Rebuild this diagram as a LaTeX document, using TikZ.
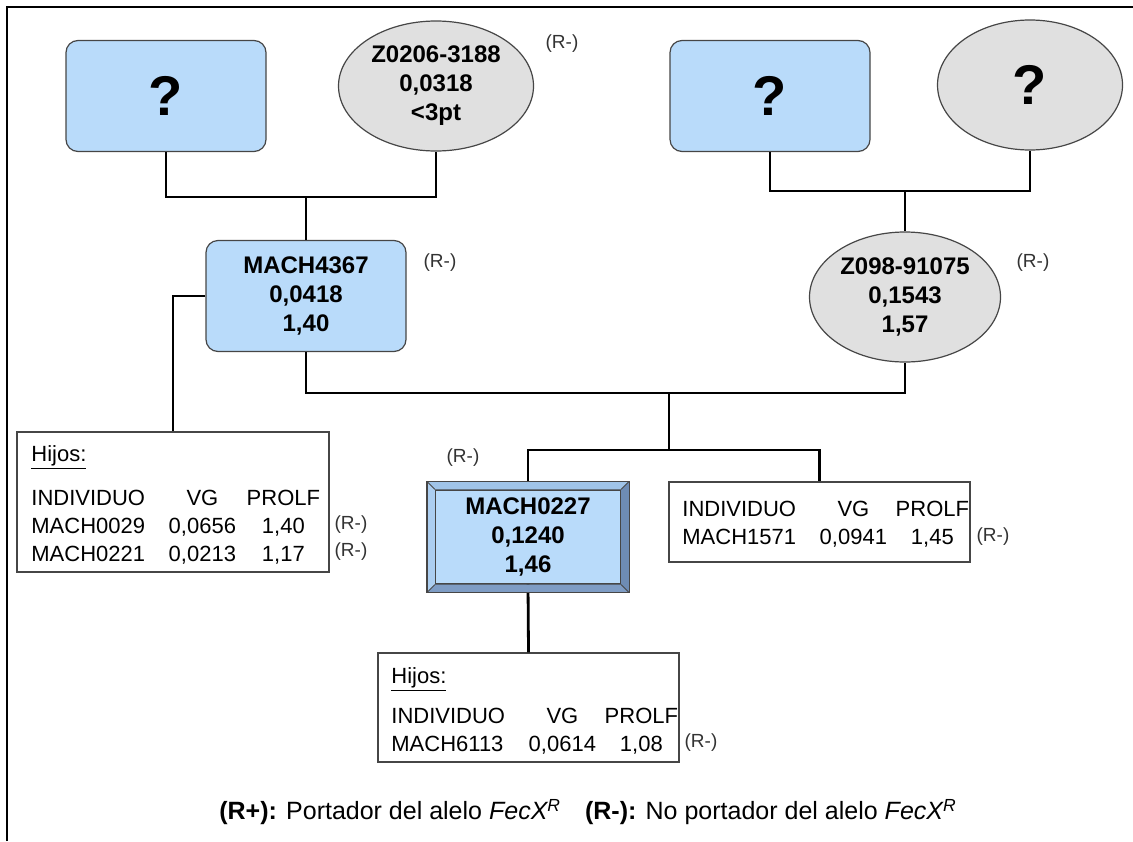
\documentclass[tikz,border=0pt]{standalone}
\usepackage{fontspec}
\setmainfont{Liberation Sans}
\usepackage{array}
\usetikzlibrary{shapes.geometric}

\definecolor{boxblue}{RGB}{185,219,250}
\definecolor{ellgray}{RGB}{224,224,224}
\definecolor{edgegray}{RGB}{70,70,70}
\definecolor{bevtop}{RGB}{160,196,232}
\definecolor{bevleft}{RGB}{172,206,240}
\definecolor{bevright}{RGB}{110,140,180}
\definecolor{bevbot}{RGB}{126,156,196}

\newcolumntype{V}{>{\centering\arraybackslash}p{34pt}}
\newcolumntype{P}{>{\centering\arraybackslash}p{37pt}}

\begin{document}
\begin{tikzpicture}[x=0.5pt,y=-0.5pt,
  pbox/.style={draw=edgegray,line width=0.6pt,fill=boxblue,rounded corners=6pt,minimum width=100pt,minimum height=55.5pt,align=center,inner sep=0pt,font=\fontsize{12}{14.5}\selectfont\bfseries},
  pell/.style={draw=edgegray,line width=0.6pt,fill=ellgray,ellipse,minimum width=95.5pt,minimum height=65pt,align=center,inner sep=0pt,font=\fontsize{12}{14.5}\selectfont\bfseries},
  face/.style={draw=edgegray,line width=0.6pt,fill=boxblue,minimum width=92.5pt,minimum height=47pt,align=center,inner sep=0pt,font=\fontsize{12}{14.5}\selectfont\bfseries},
  qmark/.style={font=\fontsize{28}{30}\selectfont\bfseries},
  tbox/.style={draw=edgegray,line width=0.6pt,fill=white,inner sep=0pt},
  tab/.style={anchor=north west,inner sep=0pt,font=\fontsize{11}{14}\selectfont},
  rneg/.style={font=\fontsize{9.5}{11}\selectfont,text=black!80,inner sep=0pt},
  link/.style={line width=1.4pt},
]
\useasboundingbox (0,0) rectangle (1133,841);

\draw[line width=1.2pt] (7,841) -- (7,7) -- (1133,7);

% parents
\node at (166,96) [pbox,qmark] (q1) {?};
\node at (436,86) [pell,minimum width=97.5pt] (z0206) {Z0206-3188\\0,0318\\<3pt};
\node at (770,96) [pbox,qmark] (q2) {?};
\node at (1030,85) [pell,qmark,minimum width=92.5pt] (q3) {?};

\node at (306,296) [pbox] (m4367) {MACH4367\\0,0418\\1,40};
\node at (905,297) [pell] (z098) {Z098-91075\\0,1543\\1,57};

\node at (528,537) [face] (m0227) {MACH0227\\0,1240\\1,46};

% hijos
\node at (173,502) [tbox,minimum width=156pt,minimum height=70pt] (hijos1) {};
\node at (31,441) [tab] (tab1) {\begin{tabular}{@{}p{68.5pt}@{}V@{\hspace{5pt}}P@{}}
\multicolumn{3}{@{}l@{}}{\underline{Hijos:}}\\[8pt]
INDIVIDUO & VG & PROLF\\
MACH0029 & 0,0656 & 1,40\\
MACH0221 & 0,0213 & 1,17
\end{tabular}};

\node at (819.5,522) [tbox,minimum width=150.5pt,minimum height=40pt] (m1571) {};
\node at (682,496) [tab] (tab2) {\begin{tabular}{@{}p{68.5pt}@{}V@{\hspace{4pt}}P@{}}
INDIVIDUO & VG & PROLF\\
MACH1571 & 0,0941 & 1,45
\end{tabular}};

\node at (528.5,707.5) [tbox,minimum width=150.5pt,minimum height=54.5pt] (hijos2) {};
\node at (391,663) [tab] (tab3) {\begin{tabular}{@{}p{68.5pt}@{}V@{\hspace{4pt}}P@{}}
\multicolumn{3}{@{}l@{}}{\underline{Hijos:}}\\[6pt]
INDIVIDUO & VG & PROLF\\
MACH6113 & 0,0614 & 1,08
\end{tabular}};

% links
\coordinate (jl) at (m4367.north |- 0,197);
\draw[link] (q1.south) |- (jl) -| (z0206.south);
\draw[link] (jl) -- (m4367.north);
\coordinate (jr) at (z098.north |- 0,191);
\draw[link] (q2.south) |- (jr) -| (q3.south);
\draw[link] (jr) -- (z098.north);
\coordinate (jb) at (669,393);
\draw[link] (m4367.south) |- (jb) -| (z098.south);
\coordinate (jc) at (669,450);
\draw[link] (jb) -- (jc);
\draw[link] (m0227.north) |- (jc) -| (m1571.north);
\draw[link] (m4367.west) -| (hijos1.north);
\draw[link] (m0227.south) -- (hijos2.north);

% bevel round MACH0227
\coordinate (o1) at ([shift={(-8,-8)}]m0227.north west);
\coordinate (o2) at ([shift={(8,-8)}]m0227.north east);
\coordinate (o3) at ([shift={(8,8)}]m0227.south east);
\coordinate (o4) at ([shift={(-8,8)}]m0227.south west);
\fill[bevtop] (o1) -- (o2) -- (m0227.north east) -- (m0227.north west) -- cycle;
\fill[bevright] (o2) -- (o3) -- (m0227.south east) -- (m0227.north east) -- cycle;
\fill[bevbot] (o3) -- (o4) -- (m0227.south west) -- (m0227.south east) -- cycle;
\fill[bevleft] (o4) -- (o1) -- (m0227.north west) -- (m0227.south west) -- cycle;
\draw[edgegray,line width=0.6pt] (o1) rectangle (o3);
\draw[edgegray,line width=0.4pt] (o1) -- (m0227.north west) (o2) -- (m0227.north east)
  (o3) -- (m0227.south east) (o4) -- (m0227.south west);

% (R-) marks
\node at (562,44) [rneg] (r1) {(R-)};
\node at (440,263) [rneg] (r2) {(R-)};
\node at (1033,263) [rneg] (r3) {(R-)};
\node at (463,458) [rneg] (r4) {(R-)};
\node at (351,525) [rneg] (r5) {(R-)};
\node at (351,552) [rneg] (r6) {(R-)};
\node at (993,537) [rneg] (r7) {(R-)};
\node at (701,743) [rneg] (r8) {(R-)};

\node at (588,812) [font=\fontsize{12.5}{15}\selectfont] (legend) {\textbf{(R+):} Portador del alelo \textit{FecX\textsuperscript{R}}\hspace{12pt}\textbf{(R-):} No portador del alelo \textit{FecX\textsuperscript{R}}};

\end{tikzpicture}
\end{document}
